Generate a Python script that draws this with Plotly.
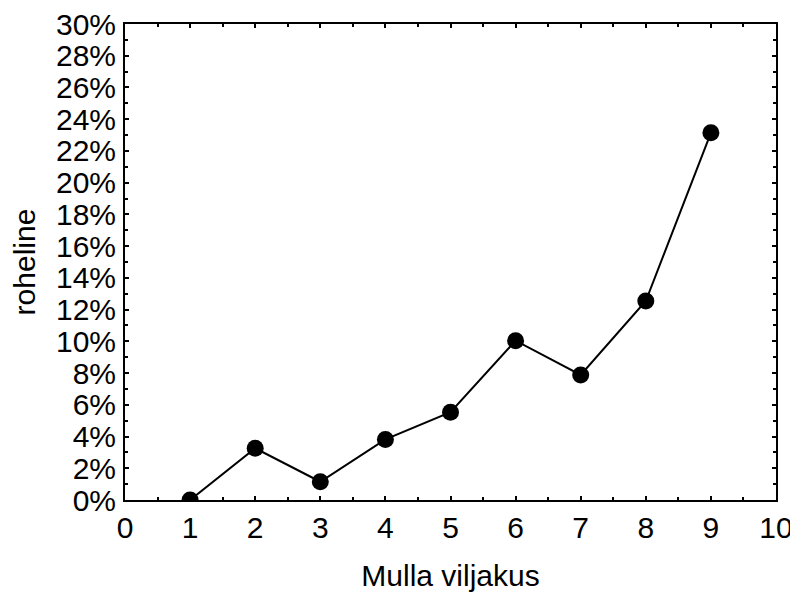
import plotly.graph_objects as go

x_vals = [1, 2, 3, 4, 5, 6, 7, 8, 9]
y_vals = [0.0, 3.26, 1.15, 3.82, 5.53, 10.04, 7.88, 12.54, 23.14]

x_title = "Mulla viljakus"
y_title = "roheline"

font_family = "Liberation Sans, Arial, sans-serif"

fig = go.Figure(
    go.Scatter(
        x=x_vals,
        y=y_vals,
        mode="lines+markers",
        line=dict(color="black", width=2),
        marker=dict(color="black", size=17),
        showlegend=False,
    )
)

axis_common = dict(
    showgrid=False,
    zeroline=False,
    showline=True,
    linecolor="black",
    linewidth=2,
    mirror="ticks",
    ticks="inside",
    ticklen=4,
    tickwidth=2,
    tickcolor="black",
    automargin=False,
    ticklabeloverflow="allow",
    tickfont=dict(family=font_family, size=30, color="black"),
)

fig.update_xaxes(
    **axis_common,
    range=[0, 10],
    dtick=1,
    tick0=0,
    minor=dict(ticks="inside", ticklen=3, tickwidth=2, tickcolor="black", dtick=0.5, tick0=0),
    title=dict(text=x_title, font=dict(family=font_family, size=30, color="black"), standoff=24),
    ticklabelstandoff=0,
)
fig.update_yaxes(
    **axis_common,
    range=[0, 30],
    dtick=2,
    tick0=0,
    ticksuffix="%",
    minor=dict(ticks="inside", ticklen=3, tickwidth=2, tickcolor="black", dtick=1, tick0=0),
    title=dict(text=y_title, font=dict(family=font_family, size=30, color="black"), standoff=14),
    ticklabelstandoff=1,
)

# page body adds an 8px offset; compensate so the plot area lands where the reference has it
fig.update_layout(
    width=790,
    height=584,
    margin=dict(l=117, r=22, t=16, b=92),
    paper_bgcolor="white",
    plot_bgcolor="white",
    font=dict(family=font_family, color="black"),
)

fig.write_html("out.html")
